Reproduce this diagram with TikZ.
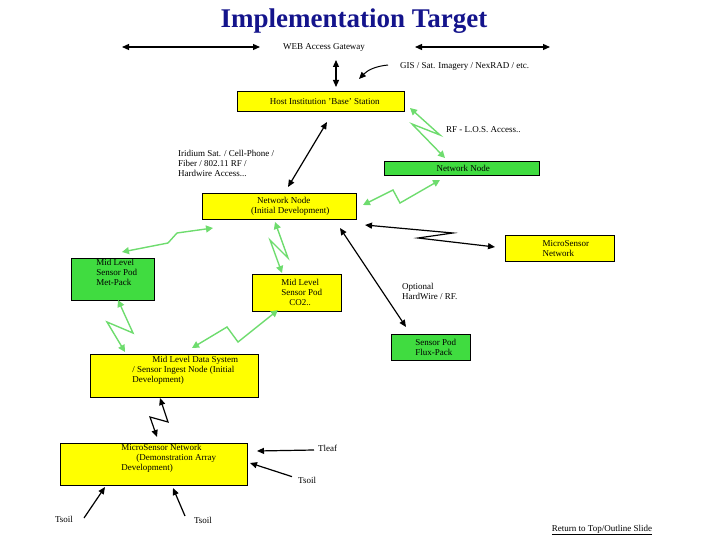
\documentclass[tikz,border=0pt]{standalone}
\usepackage{fontspec}
\setmainfont{Liberation Serif}
\usetikzlibrary{arrows.meta}
\definecolor{yel}{RGB}{255,255,0}
\definecolor{grn}{RGB}{64,220,64}
\definecolor{lgrn}{RGB}{110,220,110}
\definecolor{navy}{RGB}{20,20,140}
\begin{document}
\begin{tikzpicture}[x=1pt,y=-1pt,
  box/.style={draw=black,line width=0.5pt,inner sep=2pt,font=\fontsize{9}{10}\selectfont,anchor=north west},
  ybox/.style={box,fill=yel},
  gbox/.style={box,fill=grn},
  lbl/.style={font=\fontsize{9}{10}\selectfont,inner sep=0pt},
  blk/.style={line width=1.2pt,{Triangle[length=7pt,width=6pt]}-{Triangle[length=7pt,width=6pt]}},
  blk1/.style={line width=1.2pt,-{Triangle[length=7pt,width=6pt]}},
  gz/.style={draw=lgrn,line width=1.4pt,{Triangle[length=7pt,width=7pt]}-{Triangle[length=7pt,width=7pt]}}]
\useasboundingbox (0,0) rectangle (720,540);
\node[font=\bfseries\fontsize{27}{29}\selectfont,text=navy] (title) at (354,21) {Implementation Target};

\node[ybox,minimum width=167pt,minimum height=20pt] (host) at (237,91) {\hspace{8pt}Host Institution 'Base' Station\hspace{20pt}};
\node[gbox,minimum width=155pt,minimum height=14pt,inner sep=0pt] (nng) at (384,161) {\hspace{3pt}Network Node};
\node[ybox,minimum width=154pt,minimum height=26pt,align=left,inner sep=1pt] (nni) at (202,193) {\hspace{28pt}Network Node\\\hspace{22pt}(Initial Development)};
\node[ybox,minimum width=109pt,minimum height=26pt,align=left,inner sep=1pt] (msn) at (505,235) {\hspace{12pt}MicroSensor\\\hspace{12pt}Network\hspace{20pt}};
\node[gbox,minimum width=83pt,minimum height=42pt,align=left,inner sep=1pt] (met) at (71,258) {\hspace{8pt}Mid Level\\\hspace{8pt}Sensor Pod\\\hspace{8pt}Met-Pack\\[3pt]};
\node[ybox,minimum width=89pt,minimum height=37pt,align=left,inner sep=1pt] (co2) at (252,274) {\hspace{10pt}Mid Level\\\hspace{10pt}Sensor Pod\\\hspace{18pt}CO2..};
\node[gbox,minimum width=79pt,minimum height=26pt,align=left,inner sep=1pt] (flux) at (391,334) {\hspace{10pt}Sensor Pod\\\hspace{10pt}Flux-Pack\hspace{8pt}};
\node[ybox,minimum width=168pt,minimum height=43pt,align=left,inner sep=1pt] (mlds) at (90,354) {\hspace{42pt}Mid Level Data System\\\hspace{22pt}/ Sensor Ingest Node (Initial\\\hspace{22pt}Development)\\[3pt]};
\node[ybox,minimum width=187pt,minimum height=41pt,align=left,inner sep=1pt] (demo) at (60,443) {\hspace{30pt}MicroSensor Network\\\hspace{45pt}(Demonstration Array\\\hspace{30pt}Development)\\[4pt]};

\node[lbl] (web) at (324,47) {WEB Access Gateway};
\coordinate (wl1) at (122,47); \coordinate (wl2) at (260,47);
\coordinate (wr1) at (415,47); \coordinate (wr2) at (550,47);
\draw[blk] (wl1) -- (wl2);
\draw[blk] (wr1) -- (wr2);
\coordinate (v1) at (336,60); \coordinate (v2) at (336,87);
\draw[blk] (v1) -- (v2);
\node[lbl,anchor=west] (gis) at (400,66) {GIS / Sat. Imagery / NexRAD / etc.};
\coordinate (g1) at (388,65); \coordinate (g2) at (359,79);
\draw[line width=1pt,-{Triangle[length=7pt,width=6pt]}] (g1) to[bend right=20] (g2);

\node[lbl,anchor=north west,align=left] (iri) at (178,150) {Iridium Sat. / Cell-Phone /\\Fiber / 802.11 RF /\\Hardwire Access...};
\coordinate (i1) at (327,122); \coordinate (i2) at (288,187);
\draw[blk] (i1) -- (i2);

\node[lbl,anchor=west] (rf) at (446,130) {RF - L.O.S. Access..};
\draw[gz] (410,108) -- (440,135) -- (412,124) -- (445,158);
\draw[gz] (440,180) -- (400,203) -- (393,190) -- (363,205);
\draw[line width=1.2pt,{Triangle[length=7pt,width=6pt]}-{Triangle[length=7pt,width=6pt]}] (365,225) -- (453,233) -- (418,238) -- (495,247);
\node[lbl,anchor=north west,align=left] (opt) at (402,283) {Optional\\HardWire / RF.};
\coordinate (o1) at (340,228); \coordinate (o2) at (406,327);
\draw[blk] (o1) -- (o2);
\draw[gz] (213,228) -- (177,233) -- (168,243) -- (122,252);
\draw[gz] (275,222) -- (288,258) -- (270,240) -- (282,273);
\draw[gz] (118,300) -- (133,333) -- (107,322) -- (125,352);
\draw[gz] (278,310) -- (238,342) -- (227,327) -- (192,348);
\draw[line width=1.2pt,{Triangle[length=7pt,width=6pt]}-{Triangle[length=7pt,width=6pt]}] (160,398) -- (168,422) -- (150,417) -- (157,437);

\node[lbl,anchor=west] (tleaf) at (318,448) {Tleaf};
\node[lbl,anchor=west] (ts1) at (298,480) {Tsoil};
\node[lbl] (ts2) at (64,519) {Tsoil};
\node[lbl] (ts3) at (203,520) {Tsoil};
\draw[blk1] (tleaf.west) ++(-4,2) -- (257,451);
\draw[blk1] (ts1.north west) ++(-6,0) -- (250,463);
\draw[blk1] (84,518) -- (105,487);
\draw[blk1] (185,516) -- (173,488);
\node[lbl,font=\fontsize{9}{10}\selectfont] (ret) at (602,530) {\underline{Return to Top/Outline Slide}};
\end{tikzpicture}
\end{document}
